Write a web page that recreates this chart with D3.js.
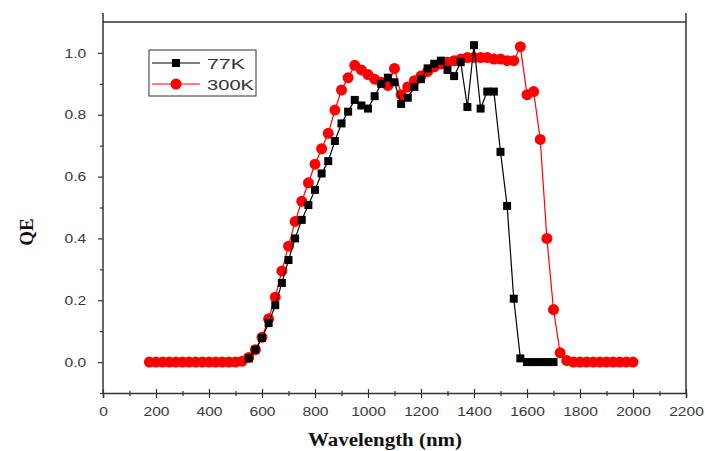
<!DOCTYPE html>
<html>
<head>
<meta charset="utf-8">
<script src="https://cdn.jsdelivr.net/npm/d3@7"></script>
<style>
  html, body { margin: 0; padding: 0; background: #fff; }
  svg { display: block; }
</style>
</head>
<body>
<div id="chart"></div>
<script>
// QE vs wavelength at 77K and 300K

const wl300 = [175, 200, 225, 250, 275, 300, 325, 350, 375, 400, 425, 450, 475, 500, 525,
  550, 575, 600, 625, 650, 675, 700, 725, 750, 775, 800, 825, 850, 875, 900, 925, 950, 975,
  1000, 1025, 1050, 1075, 1100, 1125, 1150, 1175, 1200, 1225, 1250, 1275, 1300, 1325, 1350,
  1375, 1400, 1425, 1450, 1475, 1500, 1525, 1550, 1575, 1600, 1625, 1650, 1675, 1700, 1725,
  1750, 1775, 1800, 1825, 1850, 1875, 1900, 1925, 1950, 1975, 2000];
const qe300 = [0, 0, 0, 0, 0, 0, 0, 0, 0, 0, 0, 0, 0, 0, 0.003,
  0.015, 0.04, 0.08, 0.14, 0.21, 0.295, 0.375, 0.455, 0.52, 0.58, 0.64, 0.69, 0.74, 0.815, 0.88, 0.92, 0.96, 0.945,
  0.93, 0.915, 0.905, 0.895, 0.95, 0.865, 0.89, 0.91, 0.925, 0.94, 0.955, 0.965, 0.97, 0.975, 0.98,
  0.985, 0.985, 0.985, 0.985, 0.98, 0.98, 0.975, 0.975, 1.02, 0.865, 0.875, 0.72, 0.40, 0.17, 0.03,
  0.005, 0, 0, 0, 0, 0, 0, 0, 0, 0, 0];

const wl77 = [550, 575, 600, 625, 650, 675, 700, 725, 750, 775, 800, 825, 850, 875, 900, 925, 950, 975,
  1000, 1025, 1050, 1075, 1100, 1125, 1150, 1175, 1200, 1225, 1250, 1275, 1300, 1325, 1350,
  1375, 1400, 1425, 1450, 1475, 1500, 1525, 1550, 1575, 1600, 1625, 1650, 1675, 1700];
const qe77 = [0.012, 0.04, 0.078, 0.126, 0.184, 0.256, 0.33, 0.40, 0.46, 0.508, 0.557, 0.61, 0.65, 0.715, 0.772, 0.81, 0.848, 0.83,
  0.82, 0.86, 0.90, 0.92, 0.905, 0.835, 0.855, 0.89, 0.915, 0.95, 0.965, 0.975, 0.945, 0.925, 0.97,
  0.825, 1.025, 0.82, 0.875, 0.875, 0.68, 0.505, 0.205, 0.012, 0, 0, 0, 0, 0];

const xMajor = [0, 200, 400, 600, 800, 1000, 1200, 1400, 1600, 1800, 2000, 2200];
const xMinor = [100, 300, 500, 700, 900, 1100, 1300, 1500, 1700, 1900, 2100];
const yMajor = [0, 0.2, 0.4, 0.6, 0.8, 1.0];
const yMinor = [-0.1, 0.1, 0.3, 0.5, 0.7, 0.9];

const legendLabels = ['77K', '300K'];

const width = 705;
const height = 451;
const axisColor = '#333';

const svg = d3.select('#chart')
  .append('svg')
  .attr('width', width)
  .attr('height', height);

const x = d3.scaleLinear().domain([0, 2200]).range([103, 686]);
const y = d3.scaleLinear().domain([-0.1, 1.1]).range([393, 22]);

// frame
svg.append('line')
  .attr('x1', x(0)).attr('x2', x(2200))
  .attr('y1', y(1.1)).attr('y2', y(1.1))
  .attr('stroke', axisColor).attr('stroke-width', 1.5);
svg.append('line')
  .attr('x1', x(2200)).attr('x2', x(2200))
  .attr('y1', 13).attr('y2', y(-0.1))
  .attr('stroke', axisColor).attr('stroke-width', 1.5);
svg.append('line')
  .attr('x1', x(0)).attr('x2', x(0))
  .attr('y1', 13).attr('y2', y(-0.1))
  .attr('stroke', axisColor).attr('stroke-width', 1.5);

// x axis
const gx = svg.append('g')
  .attr('transform', `translate(0,${y(-0.1)})`)
  .call(d3.axisBottom(x).tickValues(xMajor).tickSize(5).tickPadding(9).tickFormat(d3.format('d')));
gx.select('.domain').attr('stroke', axisColor).attr('stroke-width', 1.5);
gx.selectAll('.tick line').attr('y1', -4).attr('stroke', axisColor).attr('stroke-width', 1.2);
gx.selectAll('.tick text')
  .attr('font-family', 'Liberation Sans, Arial, sans-serif')
  .attr('font-size', 13)
  .attr('fill', '#3a3a3a')
  .attr('transform', 'scale(1.2,1)');

const gxm = svg.append('g')
  .attr('transform', `translate(0,${y(-0.1)})`)
  .call(d3.axisBottom(x).tickValues(xMinor).tickSize(3).tickFormat(''));
gxm.select('.domain').remove();
gxm.selectAll('.tick line').attr('y1', -2).attr('stroke', axisColor).attr('stroke-width', 1.2);

// y axis
const gy = svg.append('g')
  .attr('transform', `translate(${x(0)},0)`)
  .call(d3.axisLeft(y).tickValues(yMajor).tickSize(5).tickPadding(9).tickFormat(d3.format('.1f')));
gy.select('.domain').remove();
gy.selectAll('.tick line').attr('stroke', axisColor).attr('stroke-width', 1.2);
gy.selectAll('.tick text')
  .attr('font-family', 'Liberation Sans, Arial, sans-serif')
  .attr('font-size', 13)
  .attr('fill', '#3a3a3a')
  .attr('transform', 'scale(1.2,1)');

const gym = svg.append('g')
  .attr('transform', `translate(${x(0)},0)`)
  .call(d3.axisLeft(y).tickValues(yMinor).tickSize(3).tickFormat(''));
gym.select('.domain').remove();
gym.selectAll('.tick line').attr('stroke', axisColor).attr('stroke-width', 1.2);

// axis titles
svg.append('text')
  .attr('transform', 'translate(385,446) scale(1.1,1)')
  .attr('text-anchor', 'middle')
  .attr('font-family', 'Liberation Serif, Times New Roman, serif')
  .attr('font-weight', 'bold')
  .attr('font-size', 19)
  .attr('fill', '#111')
  .text('Wavelength (nm)');

svg.append('text')
  .attr('transform', 'translate(33,232) rotate(-90)')
  .attr('text-anchor', 'middle')
  .attr('font-family', 'Liberation Serif, Times New Roman, serif')
  .attr('font-weight', 'bold')
  .attr('font-size', 19)
  .attr('fill', '#111')
  .text('QE');

const line = d3.line()
  .x(d => x(d[0]))
  .y(d => y(d[1]));

const data300 = wl300.map((w, i) => [w, qe300[i]]);
const data77 = wl77.map((w, i) => [w, qe77[i]]);

// 300K series (red circles)
svg.append('path')
  .datum(data300)
  .attr('d', line)
  .attr('fill', 'none')
  .attr('stroke', '#ff0000')
  .attr('stroke-width', 1.2);
svg.selectAll('.pt300')
  .data(data300)
  .enter()
  .append('circle')
  .attr('class', 'pt300')
  .attr('cx', d => x(d[0]))
  .attr('cy', d => y(d[1]))
  .attr('r', 5.5)
  .attr('fill', '#ff0000');

// 77K series (black squares)
svg.append('path')
  .datum(data77)
  .attr('d', line)
  .attr('fill', 'none')
  .attr('stroke', '#000')
  .attr('stroke-width', 1.2);
svg.selectAll('.pt77')
  .data(data77)
  .enter()
  .append('rect')
  .attr('class', 'pt77')
  .attr('x', d => x(d[0]) - 4)
  .attr('y', d => y(d[1]) - 4)
  .attr('width', 8)
  .attr('height', 8)
  .attr('fill', '#000');

// legend
const legend = svg.append('g');
legend.append('rect')
  .attr('x', 149).attr('y', 50)
  .attr('width', 107).attr('height', 46)
  .attr('fill', '#fff')
  .attr('stroke', axisColor)
  .attr('stroke-width', 1);

const legendColors = ['#000', '#ff0000'];
legendLabels.forEach((lab, i) => {
  const ly = 63 + i * 21;
  legend.append('line')
    .attr('x1', 152).attr('x2', 200)
    .attr('y1', ly).attr('y2', ly)
    .attr('stroke', legendColors[i])
    .attr('stroke-width', 1.2);
  if (i === 0) {
    legend.append('rect')
      .attr('x', 172).attr('y', ly - 4)
      .attr('width', 8).attr('height', 8)
      .attr('fill', '#000');
  } else {
    legend.append('circle')
      .attr('cx', 176).attr('cy', ly)
      .attr('r', 5.5)
      .attr('fill', '#ff0000');
  }
  legend.append('text')
    .attr('x', 207)
    .attr('y', ly + 5.5)
    .attr('font-family', 'Liberation Sans, Arial, sans-serif')
    .attr('font-size', 15)
    .attr('fill', '#333')
    .attr('textLength', lab.length === 3 ? 38 : 47)
    .attr('lengthAdjust', 'spacingAndGlyphs')
    .text(lab);
});
</script>
</body>
</html>
